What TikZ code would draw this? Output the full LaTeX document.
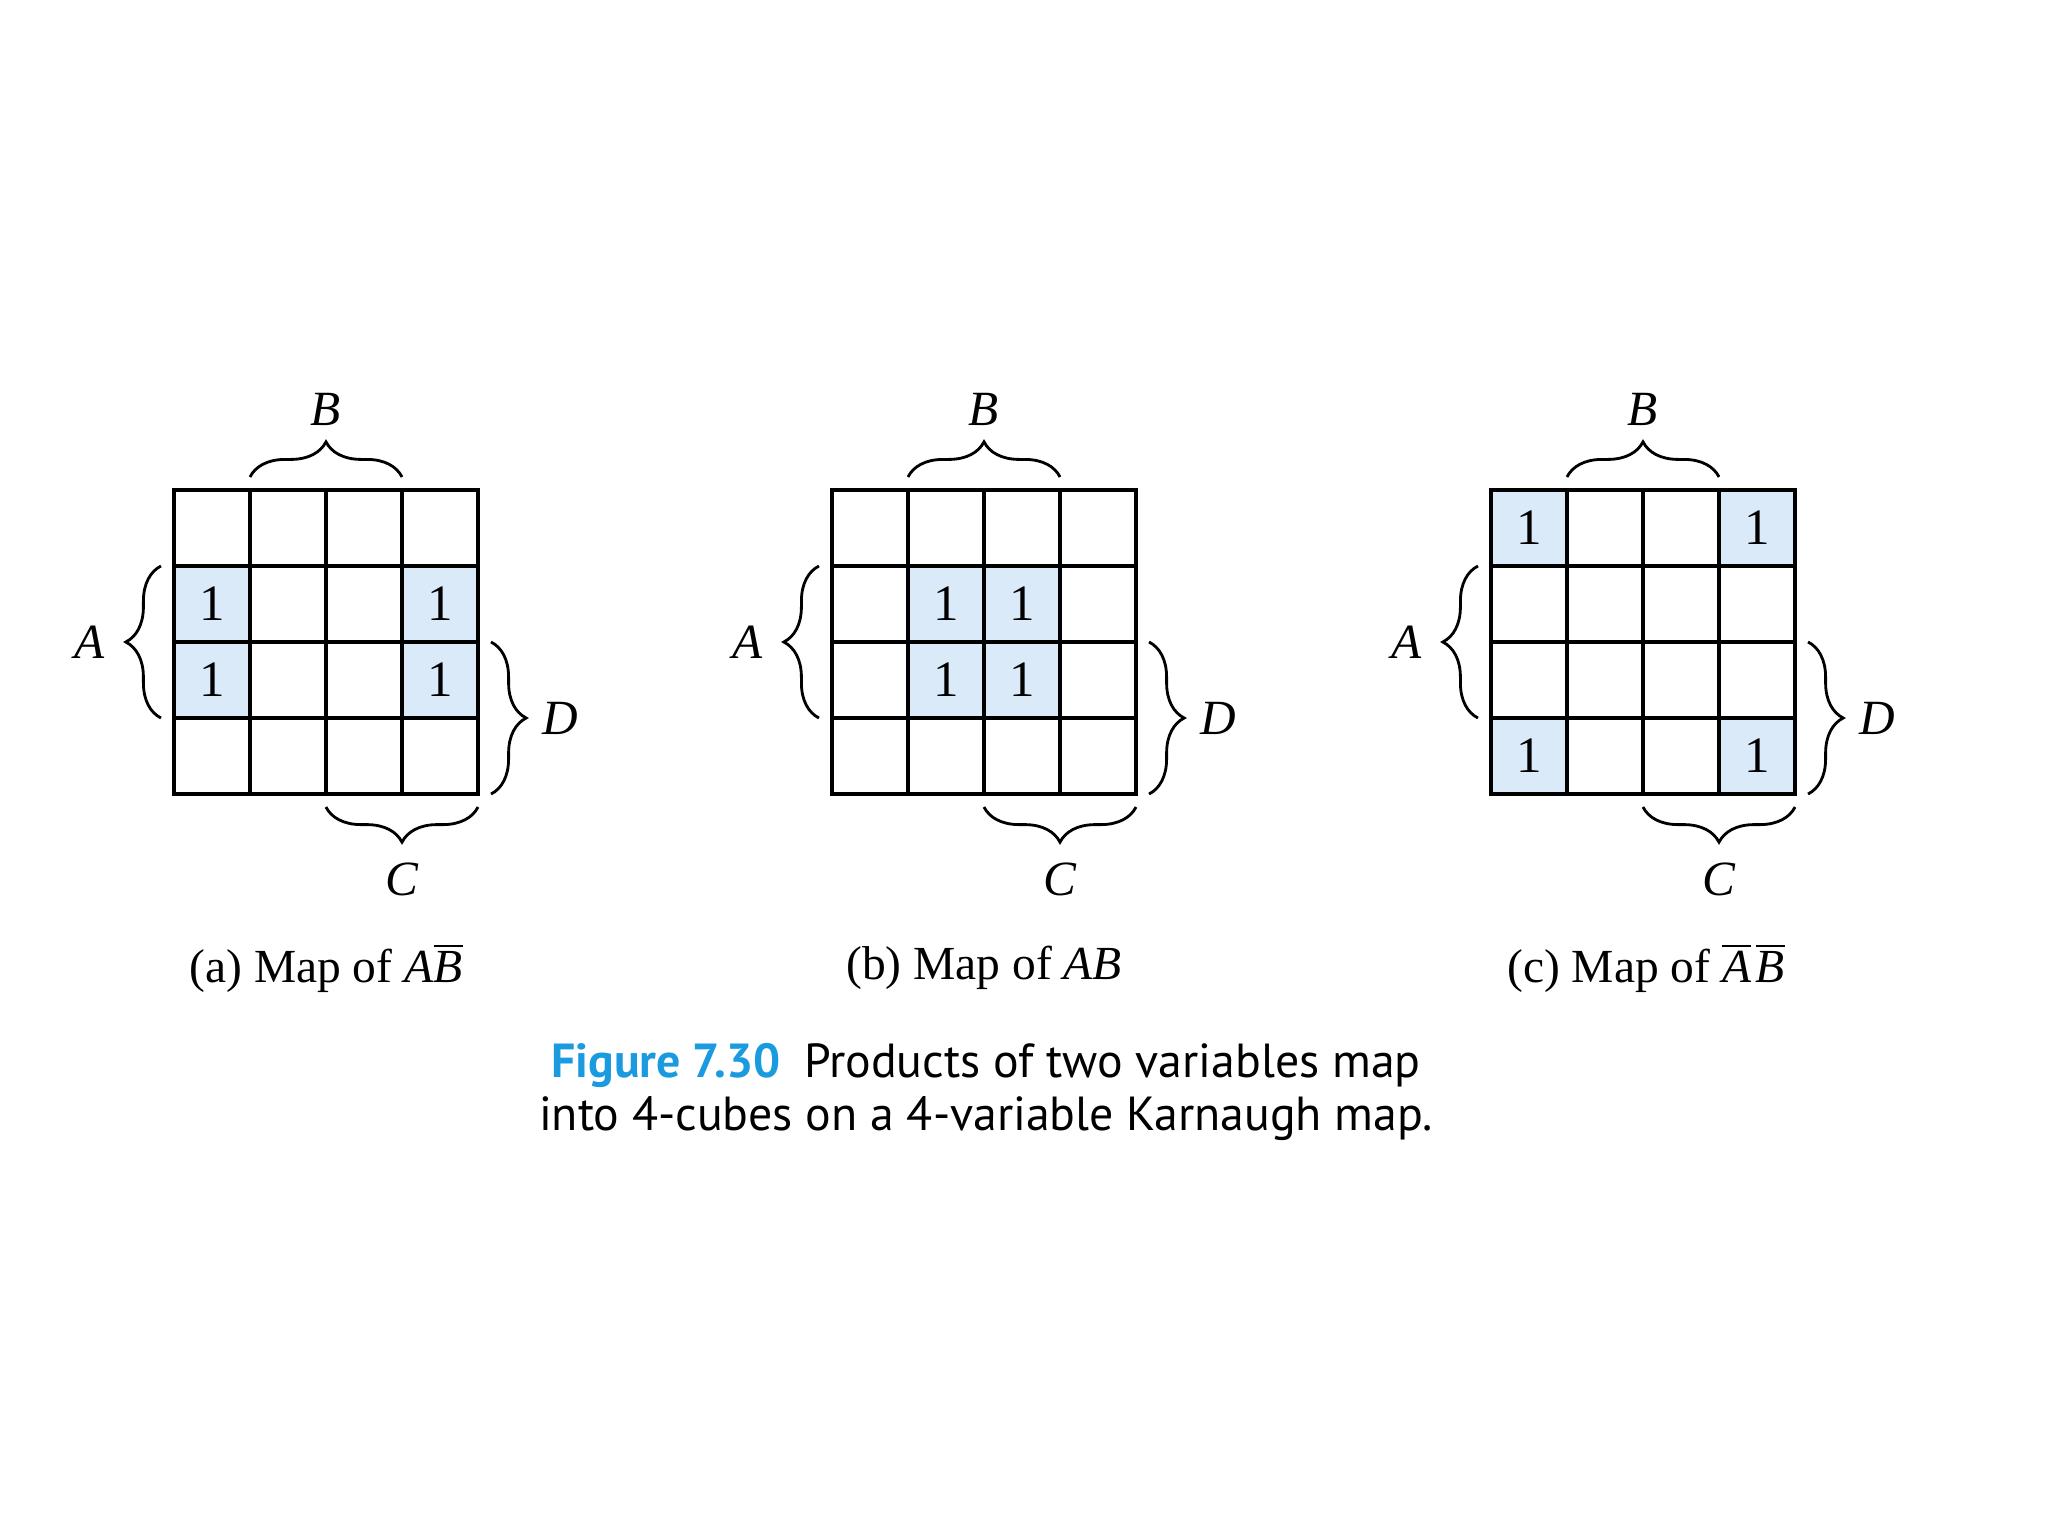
\documentclass[tikz,border=0pt]{standalone}
\usepackage{fontspec}
\setmainfont{Liberation Serif}
\newfontfamily\capfont{PT Sans}
\usetikzlibrary{decorations.pathreplacing,calc}
\definecolor{cellblue}{HTML}{DAEAF8}
\definecolor{figblue}{HTML}{1A9BE0}
\newcommand\kmapdraw[3]{%
  \foreach \r in {1,...,4}{\foreach \c in {1,...,4}{%
    \node[cell] (#1-\r-\c) at ({#2+(\c-0.5)*76},{490+(\r-0.5)*76}) {};}}
  \foreach \r/\c in {#3}{\node[one] (#1-\r-\c-one) at (#1-\r-\c) {1};}
  \draw[gl] (#1-1-1.north west) rectangle (#1-4-4.south east);
  \foreach \i in {1,2,3}{%
    \draw[gl] (#1-\i-1.south west) -- (#1-\i-4.south east);
    \draw[gl] (#1-1-\i.north east) -- (#1-4-\i.south east);}
  \draw[brc] ($(#1-1-2.north west)+(0,-13)$) -- ($(#1-1-3.north east)+(0,-13)$);
  \draw[brc] ($(#1-3-1.south west)+(-13,0)$) -- ($(#1-2-1.north west)+(-13,0)$);
  \draw[brc] ($(#1-3-4.north east)+(13,0)$) -- ($(#1-4-4.south east)+(13,0)$);
  \draw[brc] ($(#1-4-4.south east)+(0,13)$) -- ($(#1-4-3.south west)+(0,13)$);
  \node[var] (#1-B) at ($(#1-1-2.north east)+(0,-81)$) {B};
  \node[var] (#1-A) at ($(#1-2-1.south west)+(-84,0)$) {A};
  \node[var] (#1-D) at ($(#1-3-4.south east)+(82,0)$) {D};
  \node[var] (#1-C) at ($(#1-4-3.south east)+(0,85)$) {C};
}
\begin{document}
\begin{tikzpicture}[x=0.01cm,y=-0.01cm,
  cell/.style={minimum width=21.62pt,minimum height=21.62pt,inner sep=0pt,outer sep=0pt,
    font=\fontsize{14.5}{16}\selectfont},
  one/.style={cell,fill=cellblue},
  gl/.style={line width=0.9pt,line join=miter},
  brc/.style={decorate,decoration={brace,amplitude=10pt},line width=0.8pt},
  var/.style={font=\fontsize{14}{16}\selectfont\itshape},
  sub/.style={font=\fontsize{13.5}{16}\selectfont}]
\useasboundingbox (0,0) rectangle (2048,1536);
\fill[white] (0,0) rectangle (2048,1536);
\kmapdraw{a}{174}{2/1,3/1,2/4,3/4}
\kmapdraw{b}{832}{2/2,2/3,3/2,3/3}
\kmapdraw{c}{1491}{1/1,1/4,4/1,4/4}
\node[sub] (a-cap) at (326,968) {(a) Map of \textit{A}$\overline{\mbox{\textit{B}}}$};
\node[sub] (b-cap) at (984,968) {(b) Map of \textit{AB}};
\node[sub] (c-cap) at (1646,968) {(c) Map of $\overline{\mbox{\textit{A}}}\mkern1.5mu\overline{\mbox{\textit{B}}}$};
\node[align=center,font=\capfont\fontsize{13.6}{15.2}\selectfont] (fig) at (986,1092)
  {{\color{figblue}\bfseries Figure 7.30}\hspace{0.5em}Products of two variables map\\
   into 4-cubes on a 4-variable Karnaugh map.};
\end{tikzpicture}
\end{document}
